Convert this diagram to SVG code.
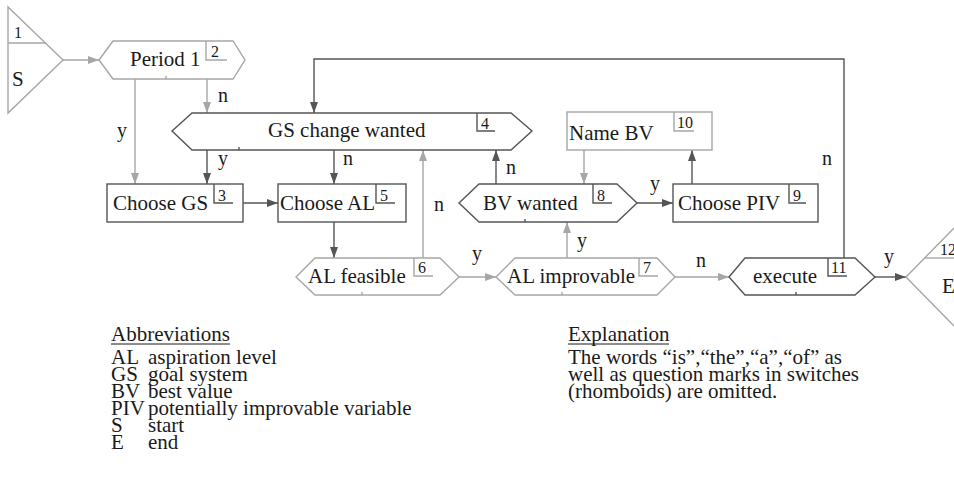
<svg xmlns="http://www.w3.org/2000/svg" width="954" height="494" viewBox="0 0 954 494">
  <style>
    .dk { stroke: #555; stroke-width: 1.4; fill: #fff; }
    .lt { stroke: #a6a6a6; stroke-width: 1.4; fill: #fff; }
    .nb { fill: none; }
    .cd { stroke: #555; stroke-width: 1.4; fill: none; marker-end: url(#arrDk); }
    .cl { stroke: #a6a6a6; stroke-width: 1.4; fill: none; marker-end: url(#arrLt); }
    text { font-family: "Liberation Serif", "Times New Roman", serif; fill: #1a1a1a; }
    .lbl { font-size: 21px; }
    .num { font-size: 16px; }
    .yn { font-size: 20px; }
    .leg { font-size: 21px; }
    .ul { stroke: #1a1a1a; stroke-width: 1; }
  </style>
  <defs>
    <marker id="arrDk" markerUnits="userSpaceOnUse" markerWidth="11" markerHeight="8" refX="11" refY="4" orient="auto">
      <path d="M0,0 L11,4 L0,8 z" fill="#555"/>
    </marker>
    <marker id="arrLt" markerUnits="userSpaceOnUse" markerWidth="11" markerHeight="8" refX="11" refY="4" orient="auto">
      <path d="M0,0 L11,4 L0,8 z" fill="#a6a6a6"/>
    </marker>
  </defs>

  <rect width="954" height="494" fill="#fff"/>

  <!-- connectors -->
  <g id="connectors">
    <path class="cl" d="M63,60 H99"/>
    <path class="cl" d="M135,79 V184"/>
    <path class="cl" d="M207,79 V113"/>
    <path class="cd" d="M207,150 V184"/>
    <path class="cd" d="M334,150 V184"/>
    <path class="cd" d="M243,203 H278"/>
    <path class="cd" d="M334,222 V258"/>
    <path class="cl" d="M423,258 V150"/>
    <path class="cl" d="M459,277 H496"/>
    <path class="cl" d="M567,258 V222"/>
    <path class="cl" d="M675,277 H729"/>
    <path class="cd" d="M496,184 V150"/>
    <path class="cd" d="M637,203 H673"/>
    <path class="cl" d="M584,150 V184"/>
    <path class="cd" d="M692,184 V150"/>
    <path class="cd" d="M844,258 V59 H314 V113"/>
    <path class="cd" d="M875,277 H906"/>

    <text class="yn" x="117" y="137">y</text>
    <text class="yn" x="218" y="102">n</text>
    <text class="yn" x="218" y="165">y</text>
    <text class="yn" x="343" y="165">n</text>
    <text class="yn" x="434" y="211">n</text>
    <text class="yn" x="506" y="174">n</text>
    <text class="yn" x="650" y="190">y</text>
    <text class="yn" x="577" y="247">y</text>
    <text class="yn" x="472" y="260">y</text>
    <text class="yn" x="696" y="267">n</text>
    <text class="yn" x="884" y="263">y</text>
    <text class="yn" x="822" y="165">n</text>
  </g>

  <!-- 1: start -->
  <g id="n1-start">
    <path class="lt" d="M8,7 L63,60 L8,113 Z"/>
    <path class="lt nb" d="M8,43 H46"/>
    <text class="num" x="14" y="38">1</text>
    <text class="lbl" x="12" y="86">S</text>
  </g>

  <!-- 2: Period 1 -->
  <g id="n2-period1">
    <path class="lt" d="M99,60 L113,41 H233 L245,60 L233,79 H113 Z"/>
    <path class="lt nb" d="M206,41 V60 H227 M166,79 V76"/>
    <text class="lbl" x="130" y="66">Period 1</text>
    <text class="num" x="211" y="57">2</text>
  </g>

  <!-- 3: Choose GS -->
  <g id="n3-choose-gs">
    <rect class="dk" x="107" y="184" width="136" height="38"/>
    <path class="dk nb" d="M214,184 V203 H233"/>
    <text class="lbl" x="113" y="210">Choose GS</text>
    <text class="num" x="218" y="201">3</text>
  </g>

  <!-- 4: GS change wanted -->
  <g id="n4-gs-change">
    <path class="dk" d="M172,131 L192,113 H511 L532,131 L511,150 H192 Z"/>
    <path class="dk nb" d="M477,113 V131 H495 M239,150 V147"/>
    <text class="lbl" x="268" y="137">GS change wanted</text>
    <text class="num" x="481" y="129">4</text>
  </g>

  <!-- 5: Choose AL -->
  <g id="n5-choose-al">
    <rect class="dk" x="278" y="184" width="128" height="38"/>
    <path class="dk nb" d="M376,184 V203 H395"/>
    <text class="lbl" x="280" y="210">Choose AL</text>
    <text class="num" x="380" y="201">5</text>
  </g>

  <!-- 6: AL feasible -->
  <g id="n6-al-feasible">
    <path class="lt" d="M296,277 L315,258 H440 L459,277 L440,295 H315 Z"/>
    <path class="lt nb" d="M414,258 V276 H433 M362,295 V292"/>
    <text class="lbl" x="308" y="283">AL feasible</text>
    <text class="num" x="418" y="273">6</text>
  </g>

  <!-- 7: AL improvable -->
  <g id="n7-al-improvable">
    <path class="lt" d="M496,277 L515,258 H657 L675,277 L657,295 H515 Z"/>
    <path class="lt nb" d="M639,258 V276 H658 M562,295 V292"/>
    <text class="lbl" x="507" y="283">AL improvable</text>
    <text class="num" x="643" y="273">7</text>
  </g>

  <!-- 8: BV wanted -->
  <g id="n8-bv-wanted">
    <path class="dk" d="M459,203 L479,184 H617 L637,203 L617,222 H479 Z"/>
    <path class="dk nb" d="M593,184 V203 H612 M525,222 V219"/>
    <text class="lbl" x="483" y="210">BV wanted</text>
    <text class="num" x="597" y="201">8</text>
  </g>

  <!-- 9: Choose PIV -->
  <g id="n9-choose-piv">
    <rect class="dk" x="673" y="184" width="145" height="38"/>
    <path class="dk nb" d="M789,184 V203 H806"/>
    <text class="lbl" x="678" y="210">Choose PIV</text>
    <text class="num" x="793" y="201">9</text>
  </g>

  <!-- 10: Name BV -->
  <g id="n10-name-bv">
    <rect class="lt" x="567" y="112" width="145" height="38"/>
    <path class="lt nb" d="M674,112 V131 H694"/>
    <text class="lbl" x="569" y="140">Name BV</text>
    <text class="num" x="677" y="128">10</text>
  </g>

  <!-- 11: execute -->
  <g id="n11-execute">
    <path class="dk" d="M729,277 L745,258 H855 L875,277 L855,295 H745 Z"/>
    <path class="dk nb" d="M828,258 V276 H847 M796,295 V292"/>
    <text class="lbl" x="753" y="283">execute</text>
    <text class="num" x="831" y="273">11</text>
  </g>

  <!-- 12: end -->
  <g id="n12-end">
    <path class="lt nb" d="M960,222 L906,277 L960,332"/>
    <path class="lt nb" d="M924,258 H954"/>
    <text class="num" x="940" y="255">12</text>
    <text class="lbl" x="942" y="293">E</text>
  </g>

  <!-- abbreviations -->
  <g id="abbreviations">
    <text class="leg" x="111" y="341">Abbreviations</text>
    <line class="ul" x1="111" y1="344" x2="230" y2="344"/>
    <text class="leg" x="111" y="364">AL</text><text class="leg" x="148" y="364">aspiration level</text>
    <text class="leg" x="111" y="381">GS</text><text class="leg" x="148" y="381">goal system</text>
    <text class="leg" x="111" y="398">BV</text><text class="leg" x="148" y="398">best value</text>
    <text class="leg" x="111" y="415">PIV</text><text class="leg" x="148" y="415">potentially improvable variable</text>
    <text class="leg" x="111" y="432">S</text><text class="leg" x="148" y="432">start</text>
    <text class="leg" x="111" y="449">E</text><text class="leg" x="148" y="449">end</text>
  </g>

  <!-- explanation -->
  <g id="explanation">
    <text class="leg" x="568" y="341">Explanation</text>
    <line class="ul" x1="568" y1="344" x2="669" y2="344"/>
    <text class="leg" x="568" y="364">The words “is”,“the”,“a”,“of” as</text>
    <text class="leg" x="568" y="381">well as question marks in switches</text>
    <text class="leg" x="568" y="398">(rhomboids) are omitted.</text>
  </g>
</svg>
